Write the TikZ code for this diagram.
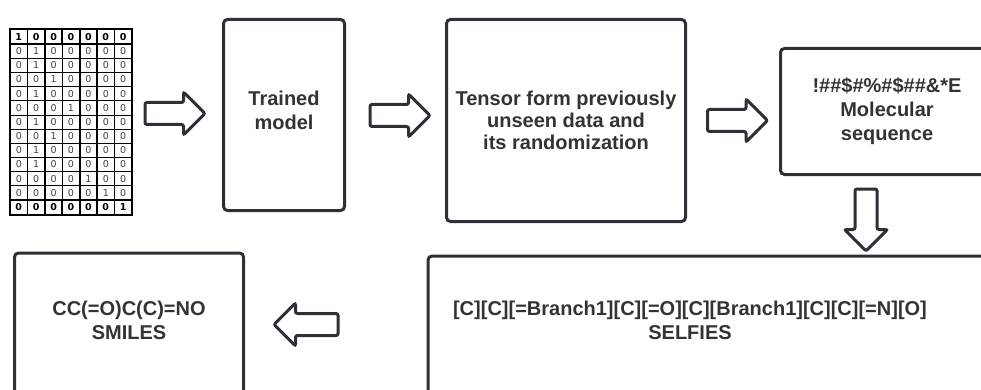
\documentclass[tikz,border=0pt]{standalone}
\usepackage{fontspec}
\setmainfont{Liberation Sans}
\newfontfamily\cellfont{DejaVu Sans}
\usetikzlibrary{matrix,shapes.arrows}

\definecolor{edgegray}{HTML}{2D3035}
\definecolor{inkgray}{HTML}{333333}

\tikzset{
  stage/.style={draw=edgegray, line width=3pt, rounded corners=4pt, text=inkgray,
    align=center, font=\bfseries\fontsize{20}{24}\selectfont, inner sep=0pt},
  blockarrow/.style={single arrow, draw=edgegray, line width=3pt, rounded corners=2pt,
    inner xsep=0pt, inner ysep=9.5pt, single arrow head extend=10.5pt,
    single arrow tip angle=90, minimum width=0pt, minimum height=60pt},
  onehotcell/.style={draw=black, line width=0.8pt, minimum width=16.9pt,
    minimum height=14.15pt, inner sep=0pt, text=black!75,
    font=\cellfont\fontsize{9.5}{9.5}\selectfont},
  edgerow/.style={nodes={line width=1.3pt, text=black,
    font=\cellfont\bfseries\fontsize{9.5}{9.5}\selectfont}}
}

\begin{document}
\begin{tikzpicture}[x=1pt, y=-1pt]
\clip (0,0) rectangle (981,390);

% one-hot input
\matrix (onehot) [matrix of nodes, draw=black, line width=1.6pt, inner sep=0pt,
  nodes={onehotcell}, column sep=-0.8pt, row sep=-0.8pt,
  row 1/.style={edgerow}, row 13/.style={edgerow}] at (71,122) {
1 & 0 & 0 & 0 & 0 & 0 & 0 \\
0 & 1 & 0 & 0 & 0 & 0 & 0 \\
0 & 1 & 0 & 0 & 0 & 0 & 0 \\
0 & 0 & 1 & 0 & 0 & 0 & 0 \\
0 & 1 & 0 & 0 & 0 & 0 & 0 \\
0 & 0 & 0 & 1 & 0 & 0 & 0 \\
0 & 1 & 0 & 0 & 0 & 0 & 0 \\
0 & 0 & 1 & 0 & 0 & 0 & 0 \\
0 & 1 & 0 & 0 & 0 & 0 & 0 \\
0 & 1 & 0 & 0 & 0 & 0 & 0 \\
0 & 0 & 0 & 0 & 1 & 0 & 0 \\
0 & 0 & 0 & 0 & 0 & 1 & 0 \\
0 & 0 & 0 & 0 & 0 & 0 & 1 \\
};

% top row
\node[stage, minimum width=121pt, minimum height=191pt] (trained) at (284,115) {};
\node[stage, draw=none] (trainedtext) at (284,110) {Trained\\model};
\node[stage, minimum width=239pt, minimum height=202pt,
  font=\bfseries\fontsize{20}{22}\selectfont] (tensor) at (566,120.5)
  {Tensor form previously\\unseen data and\\its randomization};
\node[stage, minimum width=213pt, minimum height=126pt] (molseq) at (887,111.5)
  {!\#\#\$\#\%\#\$\#\#\&*E\\Molecular\\sequence};

% bottom row
\node[stage, minimum width=580pt, minimum height=150pt, anchor=north west] (selfies) at (426.5,254.5) {};
\node[stage, draw=none] (selfiestext) at (690,320)
  {[C][C][=Branch1][C][=O][C][Branch1][C][C][=N][O]\\SELFIES};
\node[stage, minimum width=229pt, minimum height=142pt] (smiles) at (129,324) {};
\node[stage, draw=none] (smilestext) at (129,320) {CC(=O)C(C)=NO\\SMILES};

% block arrows
\node[blockarrow] (toModel) at (169.5,113.5) {};
\node[blockarrow] (toTensor) at (394.5,115.5) {};
\node[blockarrow] (toSeq) at (732,120.5) {};
\node[blockarrow, rotate=-90, minimum height=62pt] (toSelfies) at (866,214.5) {};
\node[blockarrow, rotate=180, minimum height=64pt] (toSmiles) at (311.5,324.5) {};

\end{tikzpicture}
\end{document}
